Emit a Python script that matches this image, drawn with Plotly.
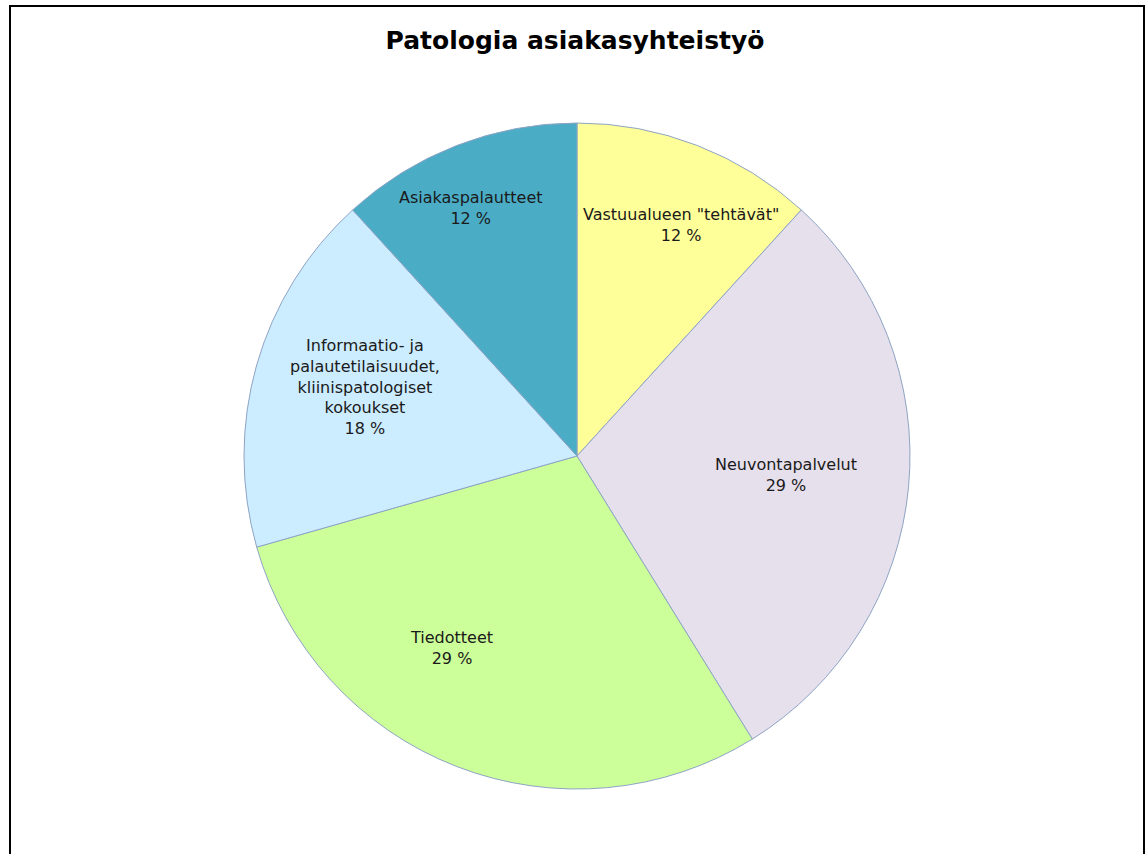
import math
import plotly.graph_objects as go

# Data
categories = ['Vastuualueen "tehtävät"', "Neuvontapalvelut", "Tiedotteet",
              "Informaatio- ja<br>palautetilaisuudet,<br>kliinispatologiset<br>kokoukset",
              "Asiakaspalautteet"]
values = [2, 5, 5, 3, 2]
colors = ["#FFFF99", "#E6E0EC", "#CCFF99", "#CCECFF", "#4BACC6"]

# label placement styles (radius fraction, angle nudge in degrees)
label_r = [0.76, 0.63, 0.69, 0.67, 0.81]
label_dang = [3, 0, 12, 2, -2]

W, H = 1147, 854
cx, cy, R = 577, 456, 333

fig = go.Figure(go.Pie(
    labels=categories, values=values, sort=False, direction="clockwise",
    rotation=0, marker=dict(colors=colors, line=dict(color="#8EA4C4", width=1)),
    textinfo="none", hoverinfo="label+percent", showlegend=False,
    domain=dict(x=[(cx - R) / W, (cx + R) / W], y=[1 - (cy + R) / H, 1 - (cy - R) / H]),
))

total = sum(values)
cum = 0
for i, (lab, v) in enumerate(zip(categories, values)):
    mid = (cum + v / 2) / total * 360 + label_dang[i]
    cum += v
    a = math.radians(mid)
    px = cx + label_r[i] * R * math.sin(a)
    py = cy - label_r[i] * R * math.cos(a)
    pct = round(v / total * 100)
    fig.add_annotation(x=px / W, y=1 - py / H, xref="paper", yref="paper",
                       text=f"{lab}<br>{pct} %", showarrow=False,
                       font=dict(family="DejaVu Sans", size=16, color="#1a1a1a"),
                       align="center", xanchor="center", yanchor="middle")

fig.add_shape(type="rect", xref="paper", yref="paper",
              x0=10 / W, x1=1144 / W, y0=-0.05, y1=1 - 6 / H,
              line=dict(color="black", width=2), fillcolor="rgba(0,0,0,0)")

fig.update_layout(
    width=W, height=H, margin=dict(l=0, r=0, t=0, b=0),
    paper_bgcolor="white", plot_bgcolor="white",
    title=dict(text="<b>Patologia asiakasyhteistyö</b>", x=575 / W, xanchor="center",
               y=1 - 40 / H, yanchor="middle",
               font=dict(family="DejaVu Sans", size=25, color="black")),
)

fig.write_html("out.html")
